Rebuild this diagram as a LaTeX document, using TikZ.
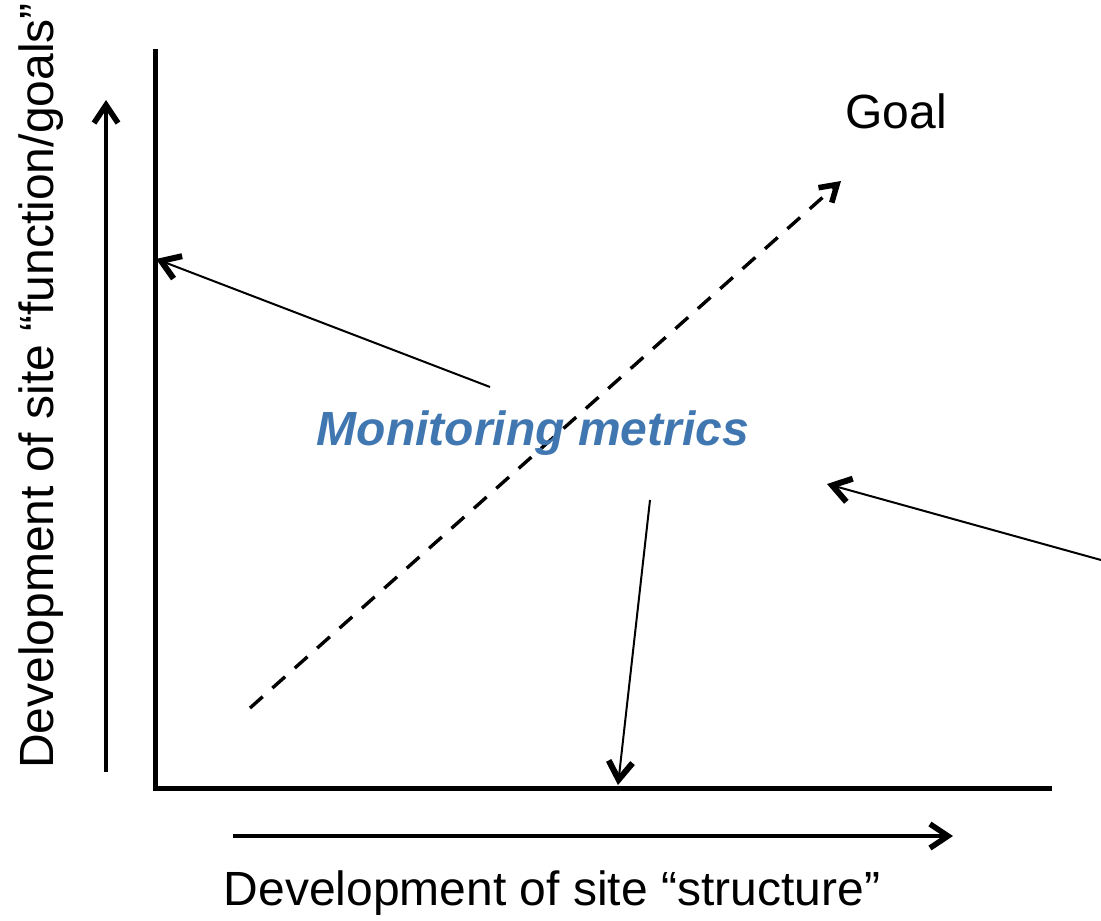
\documentclass[tikz,border=0pt]{standalone}
\usepackage{fontspec}
\setmainfont{Liberation Sans}
\usetikzlibrary{arrows.meta}
\definecolor{metricblue}{RGB}{65,119,176}
\tikzset{
  axis/.style={line width=2.5pt, line cap=rect},
  dirarrow/.style={line width=2pt, -{Straight Barb[length=9pt, width=12pt, line width=2.8pt]}},
  trend/.style={line width=1.7pt, dash pattern=on 8.5pt off 6.5pt,
    -{Straight Barb[length=8pt, width=10pt, line width=2.8pt]}},
  pointer/.style={line width=1pt, -{Straight Barb[length=9pt, width=12pt, line width=3pt]}},
  label/.style={font=\fontsize{24pt}{28pt}\selectfont, inner sep=0pt},
}
\begin{document}
\begin{tikzpicture}[x=0.5pt, y=-0.5pt]
  \useasboundingbox (0,0) rectangle (1101,920);

  % axes
  \coordinate (origin) at (155,788);
  \coordinate (ytop) at (155,52);
  \coordinate (xend) at (1049,788);
  \draw[axis] (ytop) -- (origin) -- (xend);

  % direction arrows beside the axes
  \coordinate (ystart) at (106,772);
  \coordinate (ytip) at (106,100);
  \coordinate (xstart) at (233,836);
  \coordinate (xtip) at (953,836);
  \draw[dirarrow] (ystart) -- (ytip);
  \draw[dirarrow] (xstart) -- (xtip);

  % axis labels
  \node[label] (xlab) at (552,893) {Development of site “structure”};
  \node[label, rotate=90] (ylab) at (41,386) {Development of site “function/goals”};

  % trajectory towards the goal
  \node[label] (goal) at (896,111) {Goal};
  \coordinate (trstart) at (250,708);
  \coordinate (trend) at (841,181);
  \draw[trend] (trstart) -- (trend);

  % monitoring metrics with pointers
  \node[label, font=\fontsize{24pt}{28pt}\selectfont\bfseries\itshape, text=metricblue]
    (mm) at (533,433) {Monitoring metrics};
  \coordinate (p1s) at (490,387);
  \coordinate (p1e) at (156,259);
  \coordinate (p2s) at (1101,560);
  \coordinate (p2e) at (827,484);
  \coordinate (p3s) at (650,500);
  \coordinate (p3e) at (618,785);
  \draw[pointer] (p1s) -- (p1e);
  \draw[pointer] (p2s) -- (p2e);
  \draw[pointer] (p3s) -- (p3e);
\end{tikzpicture}
\end{document}
